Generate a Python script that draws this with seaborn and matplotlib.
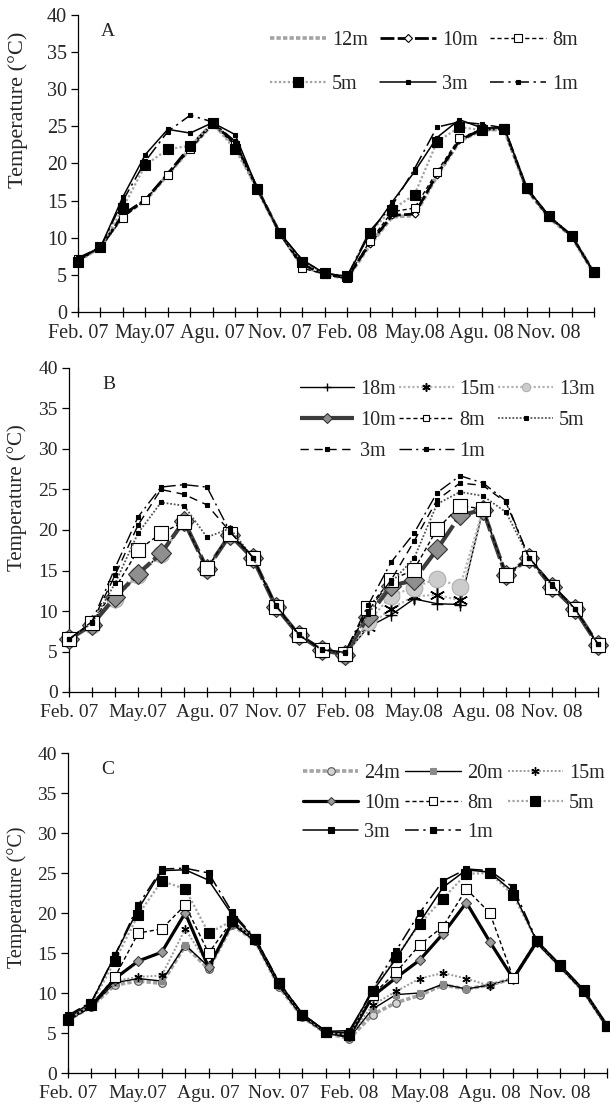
import matplotlib
matplotlib.use("Agg")
import matplotlib.pyplot as plt
from matplotlib.lines import Line2D
import numpy as np
import pandas as pd
import seaborn as sns

# ---------------------------------------------------------------- data
# monthly means, Feb 2007 .. Jan 2009 (24 months)
months = list(range(24))
tick_labels = ["Feb. 07", "", "", "May.07", "", "", "Agu. 07", "", "",
               "Nov. 07", "", "", "Feb. 08", "", "", "May.08", "", "",
               "Agu. 08", "", "", "Nov. 08", "", ""]

# station A
a_12m = [7.0, 8.7, 13.0, 15.0, 18.5, 22.0, 25.3, 22.5, 16.5, 10.6, 6.2, 5.1,
         4.5, 9.0, 12.8, 13.0, 18.3, 23.0, 24.5, 24.6, 16.5, 12.7, 10.2, 5.2]
a_10m = [7.0, 8.7, 13.1, 15.1, 18.6, 22.3, 25.4, 22.8, 16.6, 10.6, 6.4, 5.1,
         4.6, 9.2, 13.0, 13.2, 18.5, 23.1, 24.6, 24.7, 16.6, 12.8, 10.3, 5.3]
a_8m = [7.2, 8.7, 12.7, 15.1, 18.5, 21.9, 25.3, 22.5, 16.5, 10.5, 5.9, 5.1,
        4.6, 9.5, 13.5, 14.0, 18.9, 23.4, 24.6, 24.8, 16.6, 12.8, 10.2, 5.2]
a_5m = [6.7, 8.7, 14.0, 19.8, 21.9, 22.4, 25.4, 21.9, 16.6, 10.6, 6.8, 5.2,
        4.8, 10.7, 13.8, 15.8, 22.9, 24.9, 24.5, 24.6, 16.7, 12.9, 10.3, 5.4]
a_3m = [7.0, 8.7, 15.5, 21.2, 24.6, 24.1, 25.5, 23.9, 16.6, 10.6, 7.0, 5.2,
        4.8, 10.5, 14.8, 18.9, 23.5, 25.9, 24.8, 24.8, 16.7, 12.9, 10.3, 5.3]
a_1m = [7.3, 8.7, 15.0, 20.3, 24.3, 26.5, 25.6, 23.0, 16.6, 10.6, 7.0, 5.2,
        4.8, 10.9, 14.3, 19.3, 24.9, 25.6, 25.3, 24.8, 16.7, 12.9, 10.3, 5.3]

# station B
b_18m = [6.5, 8.4, 11.5, 14.5, 17.0, 21.0, 15.2, 19.3, 16.5, 10.5, 7.0, 5.2,
         4.6, 8.0, 9.5, 11.5, 10.9, 10.8, 22.5, 14.4, 16.5, 13.0, 10.2, 5.8]
b_15m = [6.5, 8.3, 11.4, 14.4, 16.9, 21.0, 15.1, 19.3, 16.4, 10.4, 7.0, 5.2,
         4.6, 8.0, 10.3, 11.8, 12.0, 11.3, 22.5, 14.4, 16.5, 13.0, 10.2, 5.8]
b_13m = [6.5, 8.3, 11.5, 14.5, 17.0, 21.0, 15.2, 19.4, 16.5, 10.5, 7.0, 5.2,
         4.6, 8.6, 11.9, 12.9, 14.0, 13.0, 22.5, 14.5, 16.5, 13.0, 10.2, 5.8]
b_10m = [6.5, 8.3, 11.7, 14.6, 17.1, 21.1, 15.2, 19.4, 16.5, 10.5, 7.0, 5.2,
         4.6, 9.3, 13.1, 13.8, 17.6, 21.8, 22.5, 14.4, 16.5, 13.0, 10.2, 5.8]
b_8m = [6.5, 8.5, 12.8, 17.5, 19.6, 21.0, 15.3, 19.5, 16.5, 10.5, 7.0, 5.2,
        4.7, 10.4, 13.8, 15.1, 20.1, 23.0, 22.6, 14.5, 16.5, 13.0, 10.2, 5.8]
b_5m = [6.5, 8.5, 13.4, 19.6, 23.4, 23.0, 19.1, 20.2, 16.6, 10.6, 7.0, 5.2,
        4.8, 9.6, 13.5, 16.5, 23.2, 24.7, 24.2, 22.2, 16.6, 13.1, 10.2, 5.9]
b_3m = [6.5, 8.6, 14.4, 20.6, 25.0, 24.4, 23.1, 19.8, 16.6, 10.6, 7.0, 5.2,
        4.9, 10.0, 13.8, 18.6, 23.7, 25.8, 25.5, 23.4, 16.6, 13.2, 10.3, 5.9]
b_1m = [6.5, 8.7, 15.3, 21.6, 25.3, 25.6, 25.3, 19.8, 16.6, 10.7, 7.1, 5.3,
        4.9, 10.7, 16.0, 19.6, 24.6, 26.7, 25.8, 23.6, 16.6, 13.3, 10.3, 5.9]

# station C
c_24m = [6.6, 8.3, 11.0, 11.5, 11.2, 15.9, 13.0, 18.5, 16.5, 10.8, 7.0, 5.0,
         4.3, 7.3, 8.8, 9.7, 11.0, 10.5, 11.0, 11.8, 16.4, 13.3, 10.2, 5.8]
c_20m = [6.6, 8.3, 11.3, 11.8, 11.5, 16.0, 13.3, 18.6, 16.5, 10.9, 7.0, 5.0,
         4.4, 8.0, 9.8, 10.0, 11.1, 10.5, 11.0, 11.8, 16.4, 13.3, 10.2, 5.8]
c_15m = [6.7, 8.4, 11.5, 12.0, 12.2, 18.0, 13.5, 18.7, 16.6, 11.0, 7.1, 5.0,
         4.5, 8.5, 10.2, 11.8, 12.5, 11.8, 10.9, 11.8, 16.4, 13.4, 10.3, 5.9]
c_10m = [6.7, 8.4, 11.8, 14.0, 15.1, 20.0, 13.2, 18.8, 16.6, 11.1, 7.2, 5.1,
         4.6, 9.6, 11.9, 14.1, 17.4, 21.3, 16.4, 11.8, 16.4, 13.4, 10.3, 5.9]
c_8m = [6.8, 8.5, 12.0, 17.5, 18.0, 21.0, 15.0, 19.0, 16.7, 11.2, 7.3, 5.1,
        4.7, 9.8, 12.6, 16.0, 18.3, 23.0, 20.0, 11.9, 16.5, 13.4, 10.3, 5.9]
c_5m = [6.6, 8.6, 14.0, 19.8, 24.0, 23.0, 17.5, 19.0, 16.7, 11.3, 7.3, 5.1,
        4.8, 10.3, 14.5, 18.6, 21.8, 24.9, 25.0, 22.2, 16.5, 13.5, 10.4, 5.9]
c_3m = [7.0, 8.8, 14.7, 20.5, 25.3, 25.4, 24.1, 19.8, 16.7, 11.3, 7.4, 5.2,
        5.3, 10.2, 14.3, 18.8, 23.2, 25.4, 25.1, 22.6, 16.5, 13.5, 10.4, 5.9]
c_1m = [7.2, 8.9, 14.7, 21.0, 25.5, 25.6, 25.0, 20.1, 16.8, 11.4, 7.4, 5.2,
        5.0, 10.5, 15.3, 20.0, 24.0, 25.5, 25.3, 23.2, 16.6, 13.5, 10.4, 5.9]

# ---------------------------------------------------------------- styles
def sty(color="black", lw=1.0, ls="-", marker="None", ms=4, mfc="black",
        mec="black", mew=0.8, lms=None):
    return dict(color=color, lw=lw, ls=ls, marker=marker, ms=ms, mfc=mfc,
                mec=mec, mew=mew, lms=ms if lms is None else lms)

GRAY = "#a3a3a3"
DOT = (0, (1, 1))
DASH = (0, (3, 2))
LDASH = (0, (6, 4))
DASHDOT = (0, (9, 3, 1.5, 3))
ASTER = (6, 2, 0)

panel_a = [
    ("12m", a_12m, sty(GRAY, 2.6, (0, (1.2, 0.6)))),
    ("10m", a_10m, sty("black", 2.0, (0, (5, 1.2)), "D", 3.5, "white", lms=4)),
    ("8m", a_8m, sty("black", 1.0, DASH, "s", 6, "white")),
    ("5m", a_5m, sty(GRAY, 1.6, DOT, "s", 6.5, "black")),
    ("3m", a_3m, sty("black", 1.1, "-", "s", 3.5)),
    ("1m", a_1m, sty("black", 1.1, DASHDOT, "s", 3.5)),
]
panel_b = [
    ("18m", b_18m, sty("black", 1.0, "-", "+", 9, mew=1.0, lms=6)),
    ("15m", b_15m, sty("#b5b5b5", 1.6, DOT, ASTER, 11, mew=1.1, lms=6)),
    ("13m", b_13m, sty("#b5b5b5", 1.6, DOT, "o", 12, "#cccccc", "#b0b0b0", lms=6)),
    ("10m", b_10m, sty("#3c3c3c", 3.0, (0, (6, 1)), "D", 10, "#8f8f8f", "#333333",
                       lms=5)),
    ("8m", b_8m, sty("black", 1.0, DASH, "s", 10, "white", lms=5)),
    ("5m", b_5m, sty("#555555", 1.3, DOT, "s", 3.5)),
    ("3m", b_3m, sty("black", 1.0, LDASH, "s", 3.5)),
    ("1m", b_1m, sty("black", 1.0, DASHDOT, "s", 3.5)),
]
panel_c = [
    ("24m", c_24m, sty(GRAY, 2.6, (0, (1.2, 0.6)), "o", 5.5, "#d4d4d4", "#555555",
                       lms=5.5)),
    ("20m", c_20m, sty("black", 1.0, "-", "s", 4, "#8a8a8a", "#8a8a8a")),
    ("15m", c_15m, sty("#9a9a9a", 1.4, DOT, ASTER, 6, mew=1.0)),
    ("10m", c_10m, sty("black", 2.3, "-", "D", 5.5, "#9c9c9c", "#444444", lms=4)),
    ("8m", c_8m, sty("black", 1.0, DASH, "s", 7, "white", lms=6)),
    ("5m", c_5m, sty(GRAY, 1.6, DOT, "s", 7.5, "black")),
    ("3m", c_3m, sty("black", 1.1, "-", "s", 4)),
    ("1m", c_1m, sty("black", 1.1, DASHDOT, "s", 4)),
]

# ---------------------------------------------------------------- figure
sns.set_theme(style="white")
plt.rcParams["font.family"] = ["Liberation Serif", "DejaVu Serif"]

W, H = 610, 1104
fig = plt.figure(figsize=(W / 100, H / 100), dpi=100)
fig.patch.set_facecolor("white")


def px_axes(left, right, top, bottom):
    return fig.add_axes([left / W, 1 - bottom / H, (right - left) / W,
                         (bottom - top) / H])


def draw_panel(ax, series, letter, letter_xy, leg_order, leg_xy, leg_kw,
               ylab_xy, ylab_size, tick_size):
    for name, vals, s in series:
        df = pd.DataFrame({"month": months, "temp": vals})
        sns.lineplot(data=df, x="month", y="temp", ax=ax, estimator=None,
                     errorbar=None, legend=False, color=s["color"],
                     linewidth=s["lw"], linestyle=s["ls"], marker=s["marker"],
                     markersize=s["ms"], markerfacecolor=s["mfc"],
                     markeredgecolor=s["mec"], markeredgewidth=s["mew"],
                     clip_on=False, zorder=3)
    ax.set_xlim(0, 23)
    ax.set_ylim(0, 40)
    ax.set_yticks(np.arange(0, 41, 5))
    ax.set_xticks(months)
    ax.set_xticklabels(tick_labels)
    ax.tick_params(axis="x", direction="inout", length=7, width=0.9,
                   color="black", pad=5, labelsize=tick_size, bottom=True)
    ax.tick_params(axis="y", direction="out", length=5, width=0.9,
                   color="black", pad=3, labelsize=tick_size, left=True)
    for side in ("top", "right"):
        ax.spines[side].set_visible(False)
    for side in ("left", "bottom"):
        ax.spines[side].set_color("black")
        ax.spines[side].set_linewidth(0.9)
    ax.set_xlabel("")
    ax.set_ylabel("Temperature (°C)", fontsize=ylab_size)
    ax.yaxis.set_label_coords(*ylab_xy)
    ax.grid(False)
    ax.set_facecolor("white")

    fig.text(letter_xy[0] / W, 1 - letter_xy[1] / H, letter, fontsize=14,
             va="center", ha="left")

    lookup = {name: s for name, _, s in series}
    handles, labels = [], []
    for name in leg_order:
        s = lookup[name]
        handles.append(Line2D([], [], color=s["color"], lw=s["lw"],
                              ls=s["ls"], marker=s["marker"], ms=s["lms"],
                              mfc=s["mfc"], mec=s["mec"], mew=s["mew"]))
        labels.append(name)
    ax.legend(handles, labels, ncols=3, loc="upper left",
              bbox_to_anchor=(leg_xy[0] / W, 1 - leg_xy[1] / H),
              bbox_transform=fig.transFigure, frameon=False, fontsize=14.5,
              borderpad=0, borderaxespad=0, numpoints=1, **leg_kw)


ax_a = px_axes(78, 594, 15, 312)
draw_panel(ax_a, panel_a, "A", (101, 31),
           ["12m", "5m", "10m", "3m", "8m", "1m"], (270, 31),
           dict(handlelength=2.8, handletextpad=0.28, columnspacing=0.6,
                labelspacing=1.25),
           (-0.097, 0.68), 16, 14.5)

ax_b = px_axes(69, 598, 368, 692)
draw_panel(ax_b, panel_b, "B", (102, 385),
           ["18m", "10m", "3m", "15m", "8m", "1m", "13m", "5m"], (300, 380),
           dict(handlelength=2.7, handletextpad=0.3, columnspacing=0.15,
                labelspacing=0.6),
           (-0.079, 0.60), 15, 14)

ax_c = px_axes(68, 607, 753, 1073)
draw_panel(ax_c, panel_c, "C", (101, 770),
           ["24m", "10m", "3m", "20m", "8m", "1m", "15m", "5m"], (303, 764),
           dict(handlelength=2.75, handletextpad=0.3, columnspacing=0.25,
                labelspacing=0.52),
           (-0.076, 0.55), 14.5, 14)

fig.savefig("out.png", dpi=100, facecolor="white")
